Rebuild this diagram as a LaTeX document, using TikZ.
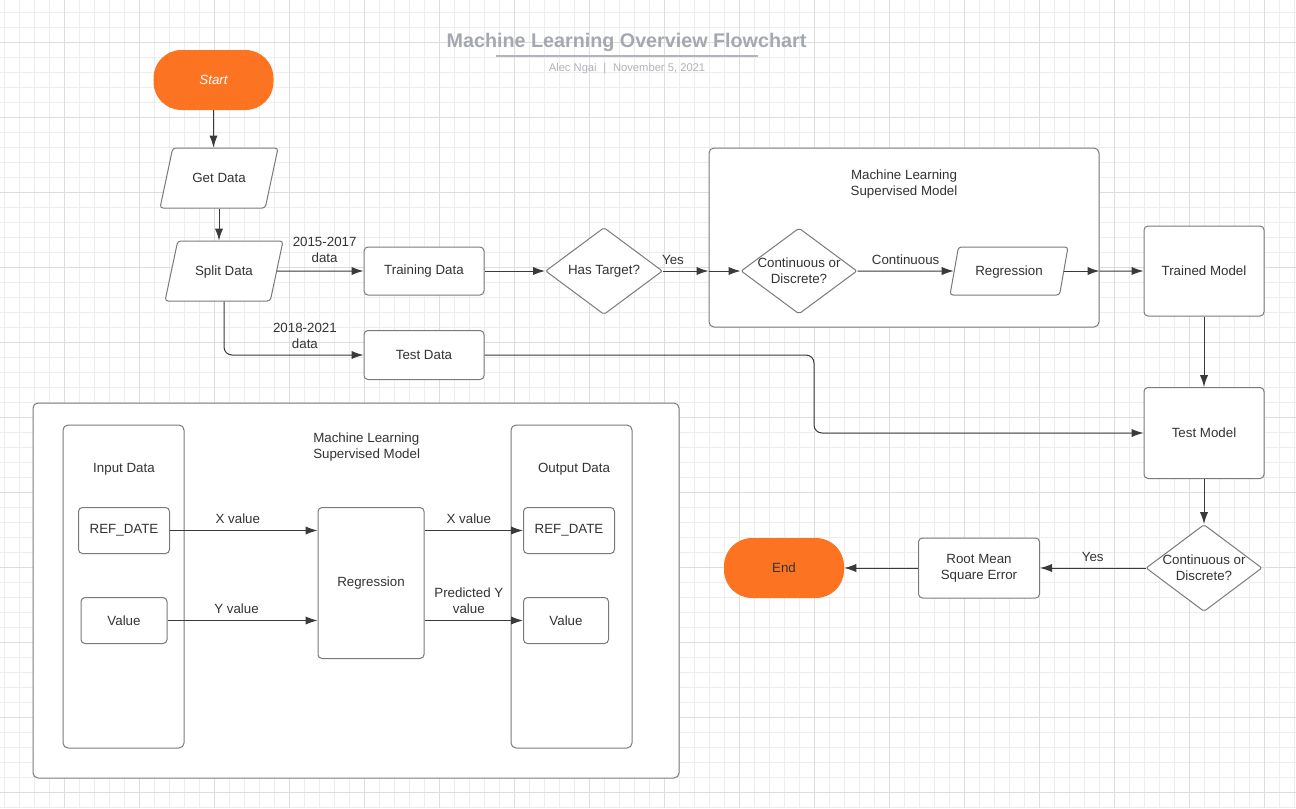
\documentclass[tikz,border=0pt]{standalone}
\usepackage{fontspec}
\setmainfont{Liberation Sans}
\usepackage{xcolor}
\usetikzlibrary{arrows.meta, positioning, calc, shapes.geometric}
\definecolor{lucidorange}{HTML}{FC7421}
\definecolor{inkgray}{HTML}{333333}
\definecolor{edgegray}{HTML}{7A7A7A}
\definecolor{linegray}{HTML}{3A3A3A}
\definecolor{titlegray}{HTML}{A4A8AF}
\definecolor{subgray}{HTML}{B0B3B8}
\definecolor{gridminor}{HTML}{EDEDED}
\definecolor{gridmajor}{HTML}{DDDDDD}
\newdimen\pxu \pxu=0.75pt

\tikzset{
  base/.style={font=\fontsize{10}{12}\selectfont, text=inkgray, align=center, inner sep=0pt},
  procbox/.style={base, rectangle, draw=edgegray, fill=white, line width=1\pxu, rounded corners=4\pxu},
  groupbox/.style={procbox, rounded corners=5\pxu},
  iobox/.style={base, trapezium, trapezium left angle=78, trapezium right angle=102,
    trapezium stretches body=true, draw=edgegray, fill=white, line width=1\pxu, rounded corners=3\pxu,
    text height=34.5\pxu, text depth=25.5\pxu},
  decision/.style={diamond, draw=edgegray, fill=white, line width=1\pxu, inner sep=0pt,
    rounded corners=2\pxu},
  terminal/.style={base, rectangle, fill=lucidorange, rounded corners=28\pxu,
    minimum width=120\pxu, minimum height=60\pxu},
  lbl/.style={base, inner sep=6\pxu},
  flow/.style={draw=linegray, line width=1\pxu, -{Latex[length=9pt, width=6.2pt]}}
}

\begin{document}
\begin{tikzpicture}[x=0.75pt, y=-0.75pt]
  %% 1 unit = 1 px of the 1296 x 808 canvas, y grows downwards
  \useasboundingbox (0,0) rectangle (1296,808);
  \fill[white] (0,0) rectangle (1296,808);

  % background grid
  \foreach \gx in {4.3,19.3,...,1296} \draw[gridminor, line width=1\pxu] (\gx,0) -- (\gx,808);
  \foreach \gy in {12.3,27.3,...,808} \draw[gridminor, line width=1\pxu] (0,\gy) -- (1296,\gy);
  \foreach \gx in {64.3,139.3,...,1296} \draw[gridmajor, line width=1\pxu] (\gx,0) -- (\gx,808);
  \foreach \gy in {42.3,117.3,...,808} \draw[gridmajor, line width=1\pxu] (0,\gy) -- (1296,\gy);

  % title block
  \node[font=\fontsize{14.8}{17}\selectfont\bfseries, text=titlegray] (title) at (626.5,42)
    {Machine Learning Overview Flowchart};
  \draw[titlegray!85, line width=2\pxu] (495.7,55.5) -- (758,55.5);
  \node[font=\fontsize{8.4}{10}\selectfont, text=subgray] (byline) at (627,68.5)
    {Alec Ngai\hspace{0.6em}|\hspace{0.6em}November 5, 2021};

  % containers
  \node[groupbox, minimum width=390\pxu, minimum height=179\pxu] (mlsup) at (904,237.5) {};
  \node[base] (mlsuptitle) at (904,184) {Machine Learning\\Supervised Model};
  \node[groupbox, minimum width=646\pxu, minimum height=375\pxu] (mlbig) at (356,590.5) {};
  \node[base, align=left, anchor=west] (mlbigtitle) at (313,447) {Machine Learning\\Supervised Model};
  \node[groupbox, minimum width=121\pxu, minimum height=323\pxu] (inbox) at (123.5,586.5) {};
  \node[base] (intitle) at (124,469) {Input Data};
  \node[groupbox, minimum width=121\pxu, minimum height=323\pxu] (outbox) at (571.5,586.5) {};
  \node[base] (outtitle) at (574,469) {Output Data};

  % main flow
  \node[terminal, text=white, font=\fontsize{10}{12}\selectfont\itshape] (start) at (213.5,80) {Start};
  \node[iobox, minimum width=118\pxu] (getd) at (219,178) {Get Data};
  \node[iobox, minimum width=118\pxu] (split) at (224,271) {Split Data};
  \node[procbox, minimum width=120\pxu, minimum height=48\pxu] (train) at (424,271) {Training Data};
  \node[procbox, minimum width=120\pxu, minimum height=49\pxu] (test) at (424,355) {Test Data};
  \node[decision, minimum width=117\pxu, minimum height=87\pxu] (ht) at (604,271) {};
  \node[base] (httext) at (ht) {Has Target?};
  \node[decision, minimum width=116\pxu, minimum height=86\pxu] (cd1) at (799,271) {};
  \node[base] (cd1text) at (cd1) {Continuous or\\Discrete?};
  \node[iobox, trapezium left angle=80, trapezium right angle=100, text height=28.5\pxu,
    text depth=19.5\pxu, minimum width=118\pxu] (reg1) at (1009,271) {Regression};
  \node[procbox, minimum width=120\pxu, minimum height=90\pxu] (trained) at (1204,271) {Trained Model};
  \node[procbox, minimum width=120\pxu, minimum height=91\pxu] (testm) at (1204,433) {Test Model};
  \node[decision, minimum width=116\pxu, minimum height=87\pxu] (cd2) at (1204,568) {};
  \node[base] (cd2text) at (cd2) {Continuous or\\Discrete?};
  \node[procbox, minimum width=121\pxu, minimum height=60\pxu] (rmse) at (979,568) {Root Mean\\Square Error};
  \node[terminal] (endn) at (784,568) {End};
  \coordinate (bend) at (814,400);

  % supervised model detail
  \node[procbox, minimum width=91\pxu, minimum height=46\pxu] (refin) at (124,530.5) {REF\_DATE};
  \node[procbox, minimum width=86\pxu, minimum height=46\pxu] (valin) at (124,620.5) {Value};
  \node[procbox, minimum width=106\pxu, minimum height=151\pxu] (regb) at (371,583) {Regression};
  \node[procbox, minimum width=91\pxu, minimum height=46\pxu] (refout) at (569,530.5) {REF\_DATE};
  \node[procbox, minimum width=85\pxu, minimum height=46\pxu] (valout) at (566,620.5) {Value};

  % connectors
  \draw[flow] (start.south) -- (start.south |- getd.north);
  \draw[flow] (getd.center |- getd.south) -- (getd.center |- split.north);
  \draw[flow] (split.east) -- node[lbl, above, yshift=1.5pt, pos=0.55] (lsplita) {2015-2017\\data} (train.west);
  \draw[flow, rounded corners=8\pxu] (split.center |- split.south)
    |- node[lbl, above, pos=0.79] (lsplitb) {2018-2021\\data} (test.west);
  \draw[flow] (train.east) -- (ht.west);
  \draw[flow] (ht.east) -- node[lbl, above, pos=0.22] (lyesa) {Yes} (ht.east -| mlsup.west);
  \draw[flow] (ht.east -| mlsup.west) -- (cd1.west);
  \draw[flow] (cd1.east) -- node[lbl, above] (lcont) {Continuous} (reg1.west);
  \draw[flow] (reg1.east) -- (reg1.east -| mlsup.east);
  \draw[flow] (reg1.east -| mlsup.east) -- (trained.west);
  \draw[flow] (trained.south) -- (testm.north);
  \draw[flow, rounded corners=8\pxu] (test.east) -| (bend) |- (testm.west);
  \draw[flow] (testm.south) -- (cd2.north);
  \draw[flow] (cd2.west) -- node[lbl, above] (lyesb) {Yes} (rmse.east);
  \draw[flow] (rmse.west) -- (endn.east);

  \draw[flow] (refin.east) -- node[lbl, above, pos=0.46] (lxin) {X value} (refin.east -| regb.west);
  \draw[flow] (valin.east) -- node[lbl, above, pos=0.46] (lyin) {Y value} (valin.east -| regb.west);
  \draw[flow] (regb.east |- refout.west) -- node[lbl, above, pos=0.45] (lxout) {X value} (refout.west);
  \draw[flow] (regb.east |- valout.west) -- node[lbl, above, pos=0.45] (lyout) {Predicted Y\\value} (valout.west);
\end{tikzpicture}
\end{document}
